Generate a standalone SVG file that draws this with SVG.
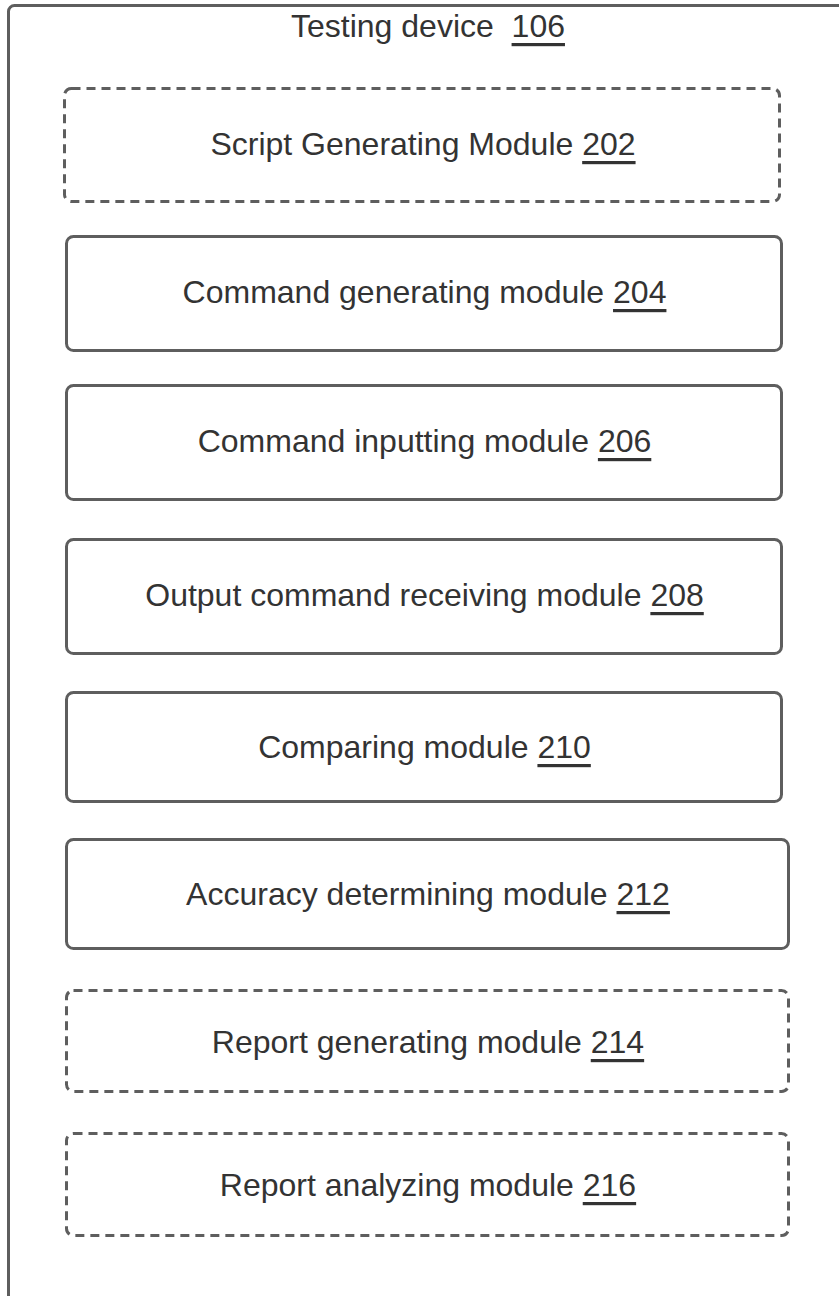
<svg xmlns="http://www.w3.org/2000/svg" width="839" height="1296" viewBox="0 0 839 1296">
  <style>
    .frame { fill: #ffffff; stroke: #5e5e5e; stroke-width: 3; }
    .box { fill: #ffffff; stroke: #5e5e5e; stroke-width: 3; }
    .dash { stroke-dasharray: 9 6; }
    .lbl { font-family: "Liberation Sans", Arial, sans-serif; font-size: 32px; fill: #333333; text-anchor: middle; dominant-baseline: central; }
    .num { text-decoration: underline; }
  </style>
  <rect width="839" height="1296" fill="#ffffff"/>
  <!-- enclosing device frame -->
  <g id="testing-device">
    <rect class="frame" x="8.5" y="5.5" width="850" height="1310" rx="6"/>
    <text class="lbl" x="428" y="26">Testing device&#160; <tspan class="num">106</tspan></text>
  </g>
  <g id="m202">
    <rect class="box dash" x="64.5" y="88.5" width="715" height="113" rx="7"/>
    <text class="lbl" x="423" y="144">Script Generating Module <tspan class="num">202</tspan></text>
  </g>
  <g id="m204">
    <rect class="box" x="66.5" y="236.5" width="715" height="114" rx="7"/>
    <text class="lbl" x="424.5" y="292">Command generating module <tspan class="num">204</tspan></text>
  </g>
  <g id="m206">
    <rect class="box" x="66.5" y="385.5" width="715" height="114" rx="7"/>
    <text class="lbl" x="424.5" y="441">Command inputting module <tspan class="num">206</tspan></text>
  </g>
  <g id="m208">
    <rect class="box" x="66.5" y="539.5" width="715" height="114" rx="7"/>
    <text class="lbl" x="424.5" y="595">Output command receiving module <tspan class="num">208</tspan></text>
  </g>
  <g id="m210">
    <rect class="box" x="66.5" y="692.5" width="715" height="109" rx="7"/>
    <text class="lbl" x="424.5" y="747">Comparing module <tspan class="num">210</tspan></text>
  </g>
  <g id="m212">
    <rect class="box" x="66.5" y="839.5" width="722" height="109" rx="7"/>
    <text class="lbl" x="428" y="894">Accuracy determining module <tspan class="num">212</tspan></text>
  </g>
  <g id="m214">
    <rect class="box dash" x="66.5" y="990.5" width="722" height="101" rx="7"/>
    <text class="lbl" x="428" y="1042">Report generating module <tspan class="num">214</tspan></text>
  </g>
  <g id="m216">
    <rect class="box dash" x="66.5" y="1133.5" width="722" height="102" rx="7"/>
    <text class="lbl" x="428" y="1185">Report analyzing module <tspan class="num">216</tspan></text>
  </g>
  <g id="connectors"/>
</svg>
